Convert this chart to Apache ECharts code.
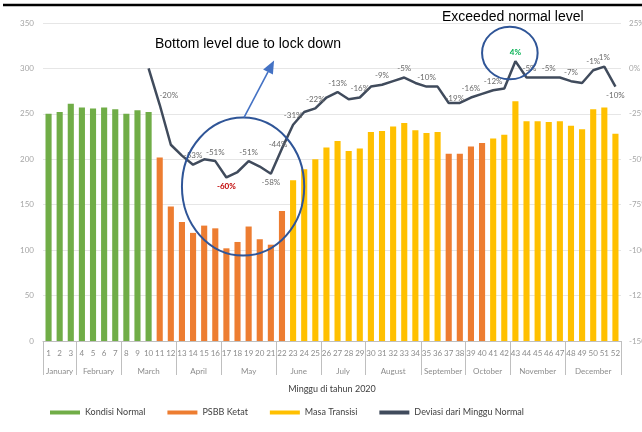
<!DOCTYPE html>
<html>
<head>
<meta charset="utf-8">
<script src="https://cdn.jsdelivr.net/npm/echarts@6/dist/echarts.min.js"></script>
<style>
  html, body { margin: 0; padding: 0; background: #ffffff; }
  #chart { width: 642px; height: 432px; }
</style>
</head>
<body>
<div id="chart"></div>
<script>
// Week numbers of 2020
const weeks = ['1','2','3','4','5','6','7','8','9','10','11','12','13','14','15','16','17','18','19','20',
  '21','22','23','24','25','26','27','28','29','30','31','32','33','34','35','36','37','38','39','40',
  '41','42','43','44','45','46','47','48','49','50','51','52'];

// Month groups along the week axis
const months = ['January','February','March','April','May','June','July','August','September','October','November','December'];
const monthWeekCounts = [3, 4, 5, 4, 5, 4, 4, 5, 4, 4, 5, 5];

// Phase of each week: N = Kondisi Normal, P = PSBB Ketat, T = Masa Transisi
const weekPhase = ['N','N','N','N','N','N','N','N','N','N',
  'P','P','P','P','P','P','P','P','P','P','P','P',
  'T','T','T','T','T','T','T','T','T','T','T','T','T','T',
  'P','P','P','P',
  'T','T','T','T','T','T','T','T','T','T','T','T'];

// Weekly volume (left axis)
const weeklyVolume = [250, 252, 261, 257, 256, 257, 255, 250, 254, 252,
  202, 148, 131, 119, 127, 124, 102, 109, 126, 112, 106, 143,
  177, 189, 200, 213, 220, 209, 212, 230, 231, 236, 240, 232, 229, 230,
  206, 206, 214, 218,
  223, 227, 264, 242, 242, 241, 242, 237, 233, 255, 257, 228];

// Deviation from a normal week, in percent (right axis)
const deviation = [null, null, null, null, null, null, null, null, null, 0,
  -20, -42, -48, -53, -50, -51, -60, -57, -51, -54, -58, -44,
  -31, -24, -22, -16, -13, -17, -16, -10, -9, -7, -5, -8, -10, -10,
  -19, -19, -16, -14, -12, -11, 4, -5, -5, -5, -5, -7, -8, -1, 1, -10];

// Weeks whose deviation is printed on the line
const labeledWeeks = [11, 14, 16, 17, 19, 21, 22, 23, 25, 27, 29, 31, 33, 35, 37, 39, 41, 43, 44, 46, 48, 50, 51, 52];

const phases = [
  { key: 'N', name: 'Kondisi Normal', color: '#70ad47' },
  { key: 'P', name: 'PSBB Ketat', color: '#ed7d31' },
  { key: 'T', name: 'Masa Transisi', color: '#ffc000' }
];
const lineName = 'Deviasi dari Minggu Normal';

const FONT = 'Lato, "Noto Sans", sans-serif';
const GREY = '#8c8c8c';

// label placement tweaks for individual weeks
const labelBelow = [17, 21, 52];
const labelOffset = { 11: [9, 0], 22: [-4, 5], 37: [6, 4], 44: [3, 0] };
const labelEmphasis = { 17: '#c00000', 43: '#00b050' };

// month boundaries and centres on a 0..52 scale
const monthEdges = [0];
monthWeekCounts.forEach(c => monthEdges.push(monthEdges[monthEdges.length - 1] + c));
const monthMids = months.map((m, i) => (monthEdges[i] + monthEdges[i + 1]) / 2);

function pointLabel(week) {
  if (!labeledWeeks.includes(week)) return { show: false };
  const lbl = {
    show: true,
    position: labelBelow.includes(week) ? 'bottom' : 'top',
    distance: 5,
    fontSize: 8,
    fontFamily: FONT,
    color: '#6b6b6b'
  };
  if (labelOffset[week]) lbl.offset = labelOffset[week];
  if (labelEmphasis[week]) { lbl.color = labelEmphasis[week]; lbl.fontWeight = 'bold'; }
  return lbl;
}

const barSeries = phases.map(ph => ({
  name: ph.name,
  type: 'bar',
  xAxisIndex: 0,
  yAxisIndex: 0,
  barWidth: '55%',
  barGap: '-100%',
  itemStyle: { color: ph.color },
  data: weeklyVolume.map((v, i) => (weekPhase[i] === ph.key ? v : null))
}));

const lineSeries = {
  name: lineName,
  type: 'line',
  xAxisIndex: 0,
  yAxisIndex: 1,
  symbol: 'circle',
  symbolSize: 0,
  showSymbol: true,
  z: 5,
  lineStyle: { color: '#404b5c', width: 2.5 },
  itemStyle: { color: '#404b5c' },
  label: { show: false, formatter: '{c}%' },
  data: deviation.map((v, i) => (v === null ? null : { value: v, label: pointLabel(i + 1) }))
};

const chart = echarts.init(document.getElementById('chart'));

const option = {
  animation: false,
  backgroundColor: '#ffffff',
  textStyle: { fontFamily: FONT },
  grid: { left: 43, right: 21, top: 23, bottom: 91, containLabel: false, outerBoundsMode: 'none' },
  legend: {
    data: phases.map(p => p.name).concat([lineName]),
    left: 45,
    top: 403,
    icon: 'rect',
    itemWidth: 30,
    itemHeight: 4,
    itemGap: 22,
    textStyle: { fontSize: 9, color: '#404040', fontFamily: FONT }
  },
  xAxis: [
    {
      type: 'category',
      data: weeks,
      position: 'bottom',
      boundaryGap: true,
      axisLine: { show: true, onZero: false, lineStyle: { color: '#bfbfbf', width: 1 } },
      axisTick: { show: false },
      axisLabel: { interval: 0, fontSize: 8, color: GREY, margin: 8, fontFamily: FONT },
      splitLine: { show: false },
      name: 'Minggu di tahun 2020',
      nameLocation: 'middle',
      nameGap: 44,
      nameTextStyle: { fontSize: 9, color: '#404040', fontFamily: FONT }
    },
    {
      type: 'value',
      position: 'bottom',
      min: 0,
      max: 52,
      axisLine: { show: false, onZero: false },
      splitLine: { show: false },
      axisTick: {
        show: true,
        customValues: monthEdges,
        length: 34,
        lineStyle: { color: '#bfbfbf', width: 1 }
      },
      axisLabel: {
        customValues: monthMids,
        formatter: v => months[monthMids.indexOf(v)] || '',
        fontSize: 8,
        color: GREY,
        margin: 26,
        fontFamily: FONT
      }
    }
  ],
  yAxis: [
    {
      type: 'value',
      min: 0,
      max: 350,
      interval: 50,
      axisLine: { show: false },
      axisTick: { show: false },
      axisLabel: { fontSize: 8, color: '#a6a6a6', margin: 9, fontFamily: FONT },
      splitLine: { lineStyle: { color: '#e6e6e6', width: 1 } }
    },
    {
      type: 'value',
      position: 'right',
      min: -150,
      max: 25,
      interval: 25,
      axisLine: { show: false },
      axisTick: { show: false },
      axisLabel: { fontSize: 8, color: '#a6a6a6', margin: 8, formatter: '{value}%', fontFamily: FONT },
      splitLine: { show: false }
    }
  ],
  series: barSeries.concat([lineSeries])
};

chart.setOption(option);

// Callouts anchored to the line's coordinate system
const lineIdx = barSeries.length;
const toPx = (weekIndex, pct) => chart.convertToPixel({ seriesIndex: lineIdx }, [weekIndex, pct]);

function ellipseAround(i0, top, i1, bottom) {
  const a = toPx(i0, top), b = toPx(i1, bottom);
  return { cx: (a[0] + b[0]) / 2, cy: (a[1] + b[1]) / 2, rx: Math.abs(b[0] - a[0]) / 2, ry: Math.abs(b[1] - a[1]) / 2 };
}

const trough = ellipseAround(12, -27, 23, -103);
const peak = ellipseAround(39, 23, 44, -6);

const arrowStart = [trough.cx + 1, trough.cy - trough.ry];
const arrowTip = [arrowStart[0] + 30, arrowStart[1] - 57];
const dx = arrowTip[0] - arrowStart[0], dy = arrowTip[1] - arrowStart[1];
const len = Math.sqrt(dx * dx + dy * dy);
const ux = dx / len, uy = dy / len;
const headLen = 13, headHalf = 5.5;
const headBase = [arrowTip[0] - ux * headLen, arrowTip[1] - uy * headLen];
const arrowHead = [
  arrowTip,
  [headBase[0] - uy * headHalf, headBase[1] + ux * headHalf],
  [headBase[0] + uy * headHalf, headBase[1] - ux * headHalf]
];

chart.setOption({
  graphic: [
    {
      type: 'line',
      shape: { x1: 3, y1: 5, x2: 642, y2: 5 },
      style: { stroke: '#000000', lineWidth: 2.5 },
      z: 100
    },
    {
      type: 'text',
      x: 155, y: 44,
      style: { text: 'Bottom level due to lock down', font: '14px "Liberation Sans", Arial, sans-serif', fill: '#000000', verticalAlign: 'middle' },
      z: 100
    },
    {
      type: 'text',
      x: 442, y: 17,
      style: { text: 'Exceeded normal level', font: '14px "Liberation Sans", Arial, sans-serif', fill: '#000000', verticalAlign: 'middle' },
      z: 100
    },
    {
      type: 'ellipse',
      shape: trough,
      style: { fill: 'none', stroke: '#2f5597', lineWidth: 2 },
      z: 100
    },
    {
      type: 'ellipse',
      shape: peak,
      style: { fill: 'none', stroke: '#2f5597', lineWidth: 2 },
      z: 100
    },
    {
      type: 'line',
      shape: { x1: arrowStart[0], y1: arrowStart[1], x2: headBase[0], y2: headBase[1] },
      style: { stroke: '#4472c4', lineWidth: 1.6 },
      z: 100
    },
    {
      type: 'polygon',
      shape: { points: arrowHead },
      style: { fill: '#4472c4' },
      z: 100
    }
  ]
});
</script>
</body>
</html>
